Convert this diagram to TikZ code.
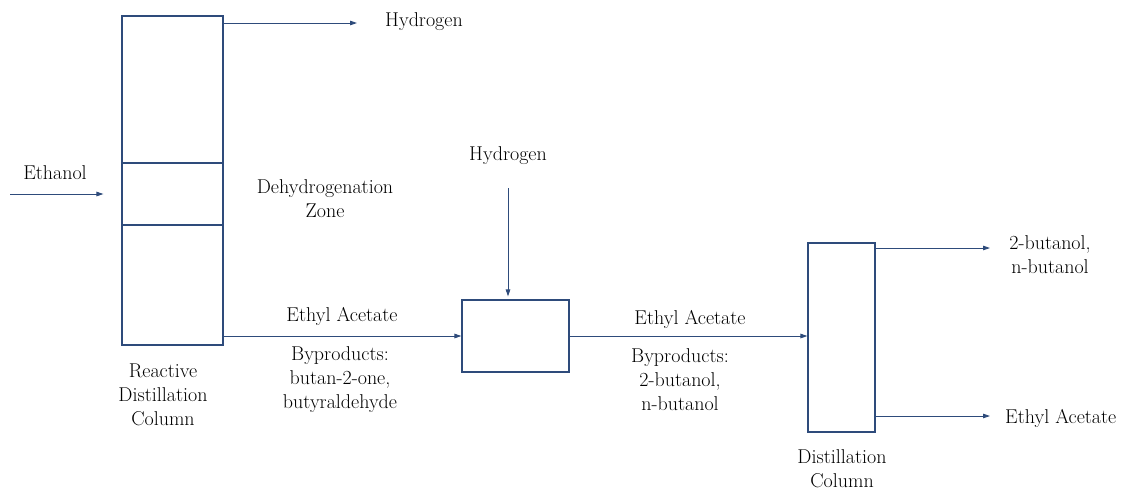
\documentclass[tikz,border=0pt]{standalone}
\usetikzlibrary{arrows.meta}
\definecolor{flowblue}{HTML}{2E4B7B}

\begin{document}
\begin{tikzpicture}[x=1pt,y=-1pt,
    unit/.style={draw=flowblue,line width=1.1pt,inner sep=0pt},
    lbl/.style={font=\fontsize{20}{24}\selectfont,align=center,inner sep=0pt},
    flow/.style={draw=flowblue,line width=0.9pt,-{Triangle[length=7pt,width=4.5pt]}}]
    \useasboundingbox (0,0) rectangle (1123,491);

    % units
    \node[unit,minimum width=101pt,minimum height=329pt](rdc) at (172.5,180.5){};
    \node[unit,minimum width=101pt,minimum height=62pt](zone) at (172.5,194){};
    \node[unit,minimum width=107pt,minimum height=72pt](reactor) at (515.5,336){};
    \node[unit,minimum width=67pt,minimum height=189pt](dc) at (841.5,337.5){};

    % labels
    \node[lbl,anchor=west](h2out) at (385,22){Hydrogen};
    \node[lbl](ethanol) at (55,173){Ethanol};
    \node[lbl](zonelbl) at (325,199){Dehydrogenation\\Zone};
    \node[lbl](rdclbl) at (163,395){Reactive\\Distillation\\Column};
    \node[lbl](ea1) at (342,316){Ethyl Acetate};
    \node[lbl](bp1) at (340,380){Byproducts:\\butan-2-one,\\butyraldehyde};
    \node[lbl](h2in) at (508,156){Hydrogen};
    \node[lbl](ea2) at (690,319){Ethyl Acetate};
    \node[lbl](bp2) at (680,380){Byproducts:\\2-butanol,\\n-butanol};
    \node[lbl](butanols) at (1050,255){2-butanol,\\n-butanol};
    \node[lbl,anchor=west](ea3) at (1005,418){Ethyl Acetate};
    \node[lbl](dclbl) at (842,469){Distillation\\Column};

    % free ends
    \coordinate (feed) at (10,194);
    \coordinate (h2end) at (357,23);
    \coordinate (h2feed) at (508,188);
    \coordinate (topend) at (990,248);
    \coordinate (botend) at (990,416);

    % streams
    \draw[flow,shorten >=18pt] (feed) -- (zone.west);
    \draw[flow] (rdc.east |- h2end) -- (h2end);
    \draw[flow] (rdc.east |- reactor.west) -- (reactor.west);
    \draw[flow,shorten >=3pt] (h2feed) -- (h2feed |- reactor.north);
    \draw[flow] (reactor.east) -- (reactor.east -| dc.west);
    \draw[flow] (dc.east |- topend) -- (topend);
    \draw[flow] (dc.east |- botend) -- (botend);
\end{tikzpicture}
\end{document}
